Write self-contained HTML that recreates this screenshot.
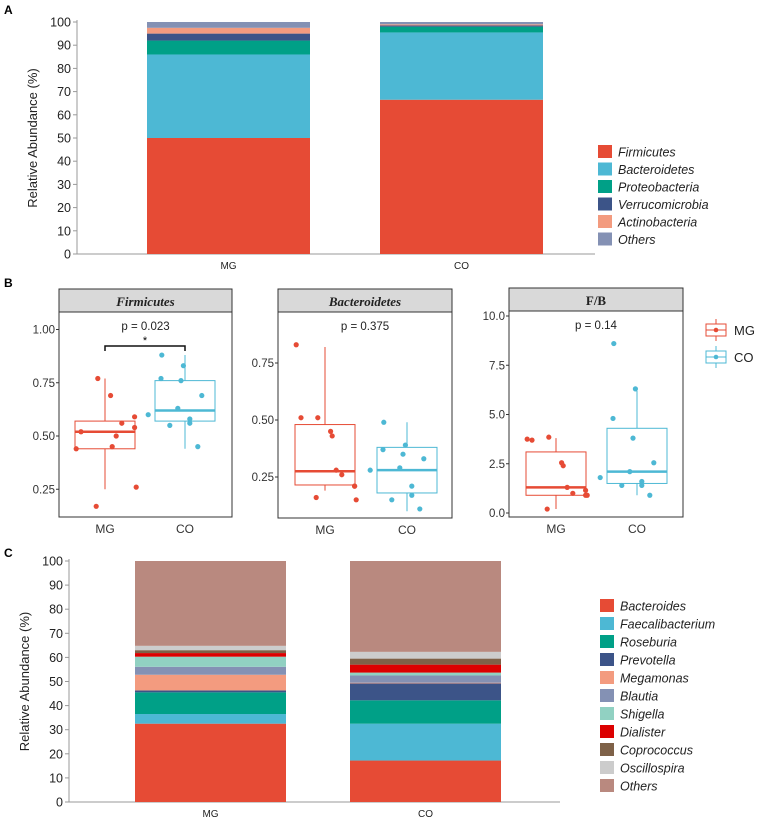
<!DOCTYPE html>
<html><head><meta charset="utf-8"><style>
body{margin:0;background:#fff;}
svg{display:block;font-family:"Liberation Sans",Arial,sans-serif;}
</style></head><body>
<svg id="fig" width="767" height="824" viewBox="0 0 767 824" xmlns="http://www.w3.org/2000/svg"></svg>
<script>
// ---- Panel A data ----
const aGroups=["MG","CO"];
const aTaxa=["Firmicutes","Bacteroidetes","Proteobacteria","Verrucomicrobia","Actinobacteria","Others"];
const aMG=[50,36,6,3,2.5,2.5];
const aCO=[66.5,29,2.5,0.5,0.5,1];
const aTicks=[0,10,20,30,40,50,60,70,80,90,100];
// ---- Panel C data ----
const cTaxa=["Bacteroides","Faecalibacterium","Roseburia","Prevotella","Megamonas","Blautia","Shigella","Dialister","Coprococcus","Oscillospira","Others"];
const cMG=[32.5,4,9,0.8,6.5,3.3,4.2,1.5,1.2,1.8,35.2];
const cCO=[17.2,15.3,9.7,7,0.3,3,1.2,3.3,2.5,2.8,37.7];
// ---- Panel B data ----
const bFirmMG=[0.44,0.52,0.77,0.69,0.45,0.50,0.56,0.59,0.54,0.26,0.17];
const bFirmCO=[0.88,0.83,0.77,0.76,0.69,0.63,0.60,0.58,0.56,0.55,0.45];
const bFirmBoxMG=[0.25,0.44,0.52,0.57,0.77];
const bFirmBoxCO=[0.44,0.57,0.62,0.76,0.88];
const bBactMG=[0.83,0.51,0.51,0.45,0.43,0.28,0.26,0.21,0.21,0.15,0.16];
const bBactCO=[0.49,0.39,0.37,0.35,0.33,0.29,0.28,0.21,0.17,0.15,0.11];
const bBactBoxMG=[0.19,0.215,0.275,0.48,0.82];
const bBactBoxCO=[0.10,0.18,0.28,0.38,0.49];
const bFBMG=[3.75,3.7,3.85,2.55,2.4,1.3,1.0,0.9,1.15,0.9,0.2];
const bFBCO=[8.6,6.3,4.8,3.8,2.55,2.1,1.8,1.6,1.4,1.4,0.9];
const bFBBoxMG=[0.2,0.9,1.3,3.1,3.8];
const bFBBoxCO=[0.9,1.5,2.1,4.3,6.2];
const jitMG=[-0.36,-0.30,-0.09,0.07,0.09,0.14,0.21,0.37,0.37,0.39,-0.11];
const jitCO=[-0.29,-0.02,-0.30,-0.05,0.21,-0.09,-0.46,0.06,0.06,-0.19,0.16];

const NS="http://www.w3.org/2000/svg";
const svg=document.getElementById('fig');
function el(tag,attrs,parent,text){const e=document.createElementNS(NS,tag);for(const k in attrs)e.setAttribute(k,attrs[k]);if(text!==undefined)e.textContent=text;(parent||svg).appendChild(e);return e;}

// Panel labels
let t;
t=el('text',{x:4,y:14,'font-size':12,'font-weight':'bold'},svg,'A');


t=el('text',{x:4,y:287,'font-size':12,'font-weight':'bold'},svg,'B');


t=el('text',{x:4,y:557,'font-size':12,'font-weight':'bold'},svg,'C');



function stacked(cfg){
  const g=el('g',{});
  
  
  const y=v=>cfg.y0-(v/100)*(cfg.y0-cfg.y100);
  el('line',{x1:cfg.ax,y1:cfg.y100-2,x2:cfg.ax,y2:cfg.y0,stroke:'#999','stroke-width':1},g);
  el('line',{x1:cfg.ax,y1:cfg.y0,x2:cfg.axEnd,y2:cfg.y0,stroke:'#999','stroke-width':1},g);
  aTicks.forEach(v=>{
    el('line',{x1:cfg.ax-4,y1:y(v),x2:cfg.ax,y2:y(v),stroke:'#999'},g);
    const tl=el('text',{x:cfg.ax-6,y:y(v)+4.5,'font-size':12.5,'text-anchor':'end',fill:'#222'},g,String(v));
    
    
  });
  const yt=el('text',{transform:`translate(${cfg.ax-40},${(cfg.y0+cfg.y100)/2}) rotate(-90)`,'font-size':13,'text-anchor':'middle',fill:'#222'},g,'Relative Abundance (%)');
  
  
  cfg.series.forEach((vals,gi)=>{
    let cum=0;
    vals.forEach((v,i)=>{
      const r=el('rect',{x:cfg.bx[gi],y:y(cum+v),width:cfg.bw,height:y(cum)-y(cum+v),fill:cfg.colors[i]},g);
      
      
      cum+=v;
    });
    const xl=el('text',{x:cfg.bx[gi]+cfg.bw/2,y:cfg.y0+15,'font-size':10,'text-anchor':'middle',fill:'#222'},g,aGroups[gi]);
    
    
  });
  cfg.taxa.forEach((name,i)=>{
    const ly=cfg.ly+i*cfg.ls;
    const s=el('rect',{x:cfg.lx,y:ly-7,width:14,height:13,fill:cfg.colors[i]},g);
    
    
    const lt=el('text',{x:cfg.lx+20,y:ly+4.5,'font-size':12.5,'font-style':'italic',fill:'#222'},g,name);
    
    
  });
}
stacked({name:'panel-a-chart',ax:77,axEnd:595,y0:254,y100:22,bx:[147,380],bw:163,series:[aMG,aCO],taxa:aTaxa,
  colors:['#e64b35','#4db8d4','#00a087','#3c5488','#f39b7f','#8491b4'],lx:598,ly:152,ls:17.5});
stacked({name:'panel-c-chart',ax:69,axEnd:560,y0:802,y100:561,bx:[135,350],bw:151,series:[cMG,cCO],taxa:cTaxa,
  colors:['#e64b35','#4db8d4','#00a087','#3c5488','#f39b7f','#8491b4','#91d1c2','#dc0000','#7e6148','#cccccc','#b9897f'],lx:600,ly:606,ls:18});

// Panel B
function boxPanel(cfg){
  const g=el('g',{});
  
  
  const y=v=>cfg.yRef-(v-cfg.vRef)*cfg.ppu;
  el('rect',{x:cfg.x0,y:cfg.sTop,width:cfg.x1-cfg.x0,height:cfg.sBot-cfg.sTop,fill:'#d9d9d9',stroke:'#333','stroke-width':1},g);
  const st=el('text',{x:(cfg.x0+cfg.x1)/2,y:cfg.sBot-6,'font-size':13,'text-anchor':'middle','font-family':'Liberation Serif,serif','font-style':cfg.italic?'italic':'normal','font-weight':'bold',fill:'#222'},g,cfg.title);
  
  
  el('rect',{x:cfg.x0,y:cfg.sBot,width:cfg.x1-cfg.x0,height:cfg.bot-cfg.sBot,fill:'none',stroke:'#333','stroke-width':1},g);
  cfg.ticks.forEach(v=>{
    el('line',{x1:cfg.x0-3,y1:y(v),x2:cfg.x0,y2:y(v),stroke:'#333'},g);
    const tl=el('text',{x:cfg.x0-4,y:y(v)+4,'font-size':11.5,'text-anchor':'end',fill:'#333'},g,cfg.tickLabels[cfg.ticks.indexOf(v)]);
    
    
  });
  const p=el('text',{x:(cfg.x0+cfg.x1)/2,y:cfg.sBot+18,'font-size':11.5,'text-anchor':'middle',fill:'#222'},g,cfg.p);
  
  
  const cols=['#e64b35','#4db8d4'];
  const grp=['MG','CO'];
  [cfg.boxMG,cfg.boxCO].forEach((b,gi)=>{
    const cx=cfg.cx[gi],hw=30,c=cols[gi];
    el('line',{x1:cx,y1:y(b[0]),x2:cx,y2:y(b[1]),stroke:c},g);
    el('line',{x1:cx,y1:y(b[3]),x2:cx,y2:y(b[4]),stroke:c},g);
    const r=el('rect',{x:cx-hw,y:y(b[3]),width:hw*2,height:y(b[1])-y(b[3]),fill:'none',stroke:c,'stroke-width':1},g);
    
    
    el('line',{x1:cx-hw,y1:y(b[2]),x2:cx+hw,y2:y(b[2]),stroke:c,'stroke-width':2.5},g);
    const xl=el('text',{x:cx,y:cfg.bot+16,'font-size':12,'text-anchor':'middle',fill:'#333'},g,grp[gi]);
    
    
    const pts=gi?cfg.ptsCO:cfg.ptsMG, jit=gi?jitCO:jitMG;
    pts.forEach((v,i)=>{
      const d=el('circle',{cx:cx+jit[i]*80,cy:y(v),r:2.6,fill:c},g);
      
      
    });
  });
  if(cfg.sig){
    const by=cfg.sBot+34;
    const br=el('path',{d:`M${cfg.cx[0]} ${by+5}V${by}H${cfg.cx[1]}V${by+5}`,fill:'none',stroke:'#111','stroke-width':1.5},g);
    
    
    el('text',{x:(cfg.cx[0]+cfg.cx[1])/2,y:by-2,'font-size':11,'text-anchor':'middle'},g,'*');
  }
}
boxPanel({name:'firmicutes-boxplot',x0:59,x1:232,sTop:289,sBot:312,bot:517,yRef:436,vRef:0.5,ppu:213,ticks:[0.25,0.5,0.75,1.0],tickLabels:['0.25','0.50','0.75','1.00'],
  title:'Firmicutes',italic:true,p:'p = 0.023',sig:true,cx:[105,185],boxMG:bFirmBoxMG,boxCO:bFirmBoxCO,ptsMG:bFirmMG,ptsCO:bFirmCO});
boxPanel({name:'bacteroidetes-boxplot',x0:278,x1:452,sTop:289,sBot:312,bot:518,yRef:420,vRef:0.5,ppu:228,ticks:[0.25,0.5,0.75],tickLabels:['0.25','0.50','0.75'],
  title:'Bacteroidetes',italic:true,p:'p = 0.375',sig:false,cx:[325,407],boxMG:bBactBoxMG,boxCO:bBactBoxCO,ptsMG:bBactMG,ptsCO:bBactCO});
boxPanel({name:'fb-ratio-boxplot',x0:509,x1:683,sTop:288,sBot:311,bot:517,yRef:513,vRef:0,ppu:19.7,ticks:[0,2.5,5,7.5,10],tickLabels:['0.0','2.5','5.0','7.5','10.0'],
  title:'F/B',italic:false,p:'p = 0.14',sig:false,cx:[556,637],boxMG:bFBBoxMG,boxCO:bFBBoxCO,ptsMG:bFBMG,ptsCO:bFBCO});

// Panel B legend
[['MG','#e64b35',330],['CO','#4db8d4',357]].forEach(([n,c,ly])=>{
  const g=el('g',{});
  
  
  el('line',{x1:716,y1:ly-11,x2:716,y2:ly+11,stroke:c},g);
  el('rect',{x:706,y:ly-6,width:20,height:12,fill:'#fff',stroke:c},g);
  el('line',{x1:706,y1:ly,x2:726,y2:ly,stroke:c},g);
  el('circle',{cx:716,cy:ly,r:2.3,fill:c},g);
  el('text',{x:734,y:ly+5,'font-size':13,fill:'#222'},g,n);
});
</script>
</body></html>
